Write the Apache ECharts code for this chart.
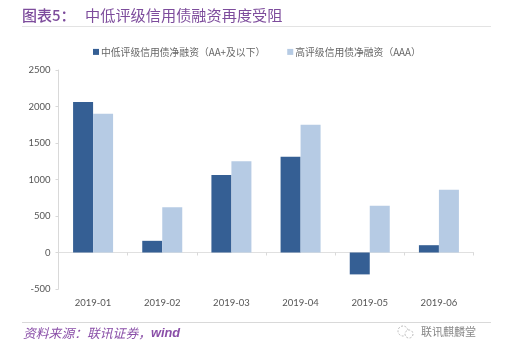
<!DOCTYPE html>
<html>
<head>
<meta charset="utf-8">
<style>html,body{margin:0;padding:0;background:#fff}#chart{width:505px;height:351px}</style>
<script src="https://cdn.jsdelivr.net/npm/echarts@6/dist/echarts.min.js"></script>
</head>
<body>
<div id="chart"></div>
<script>
const months = ["2019-01", "2019-02", "2019-03", "2019-04", "2019-05", "2019-06"];
const lowGrade = [2060, 160, 1060, 1310, -300, 100];
const highGrade = [1900, 620, 1250, 1750, 640, 860];
const lowName = "中低评级信用债净融资（AA+及以下）";
const highName = "高评级信用债净融资（AAA）";
const yTicks = { min: -500, max: 2500, interval: 500 };

const cjk = '"Noto Sans CJK SC", sans-serif';
const latin = 'Lato, "Noto Sans CJK SC", sans-serif';
const purple = "#7d4c9c";

let myChart = echarts.init(document.getElementById("chart"));
myChart.setOption({
    animation: false,
    backgroundColor: "#fff",
    grid: { left: 58.5, right: 31.5, top: 70, height: 219 },
    legend: {
        left: 88,
        top: 42,
        itemWidth: 6,
        itemHeight: 6,
        itemGap: 22,
        icon: "rect",
        textStyle: { fontFamily: cjk, fontSize: 9.8, color: "#666", padding: [0, 0, 0, -3] },
        data: [lowName, highName]
    },
    xAxis: [
        {
            type: "category",
            data: months,
            axisLine: { onZero: true, lineStyle: { color: "#e0e0e0" } },
            axisTick: { show: true, length: 3, lineStyle: { color: "#d9d9d9" } },
            axisLabel: { show: false }
        },
        {
            type: "category",
            position: "bottom",
            data: months,
            axisLine: { show: false, onZero: false },
            axisTick: { show: false },
            axisLabel: { fontFamily: latin, fontSize: 9.5, color: "#555", margin: 9 }
        }
    ],
    yAxis: {
        type: "value",
        min: yTicks.min,
        max: yTicks.max,
        interval: yTicks.interval,
        axisLine: { show: true, lineStyle: { color: "#d9d9d9" } },
        axisTick: { show: true, length: 3, lineStyle: { color: "#d9d9d9" } },
        axisLabel: { fontFamily: latin, fontSize: 9.5, color: "#555", margin: 8, formatter: (v) => String(v) },
        splitLine: { show: false }
    },
    series: [
        { name: lowName, type: "bar", data: lowGrade, barWidth: 20, barGap: "0%", itemStyle: { color: "#355f94" } },
        { name: highName, type: "bar", data: highGrade, barWidth: 20, barGap: "0%", itemStyle: { color: "#b6cbe4" } }
    ],
    graphic: [
        { type: "text", left: 22, top: 8, style: { text: "图表5：", fontFamily: cjk, fontSize: 15, fontWeight: 500, fill: purple } },
        { type: "text", left: 85, top: 8, style: { text: "中低评级信用债融资再度受阻", fontFamily: cjk, fontSize: 15.2, fill: purple } },
        { type: "line", shape: { x1: 22, y1: 26.5, x2: 491, y2: 26.5 }, style: { stroke: "#e3e3e3", lineWidth: 1 } },
        { type: "line", shape: { x1: 22, y1: 322.5, x2: 491, y2: 322.5 }, style: { stroke: "#d9d9d9", lineWidth: 1 } },
        {
            type: "text", left: 23, top: 327,
            style: {
                text: "{a|资料来源：联讯证券，}{b|wind}",
                rich: {
                    a: { fontFamily: cjk, fontSize: 12.8, fontStyle: "italic", fill: "#8a4fa8" },
                    b: { fontFamily: "Liberation Sans", fontSize: 12.8, fontStyle: "italic", fontWeight: "bold", fill: "#8a4fa8" }
                }
            }
        },
        { type: "text", left: 421, top: 326, style: { text: "联讯麒麟堂", fontFamily: cjk, fontSize: 11, fill: "#888" } },
        { type: "circle", shape: { cx: 403, cy: 331, r: 5 }, style: { fill: "none", stroke: "#bbb", lineWidth: 1, lineDash: [2, 1.5] } },
        { type: "circle", shape: { cx: 409, cy: 334, r: 4 }, style: { fill: "#fff", stroke: "#bbb", lineWidth: 1, lineDash: [2, 1.5] } }
    ]
});
</script>
</body>
</html>
